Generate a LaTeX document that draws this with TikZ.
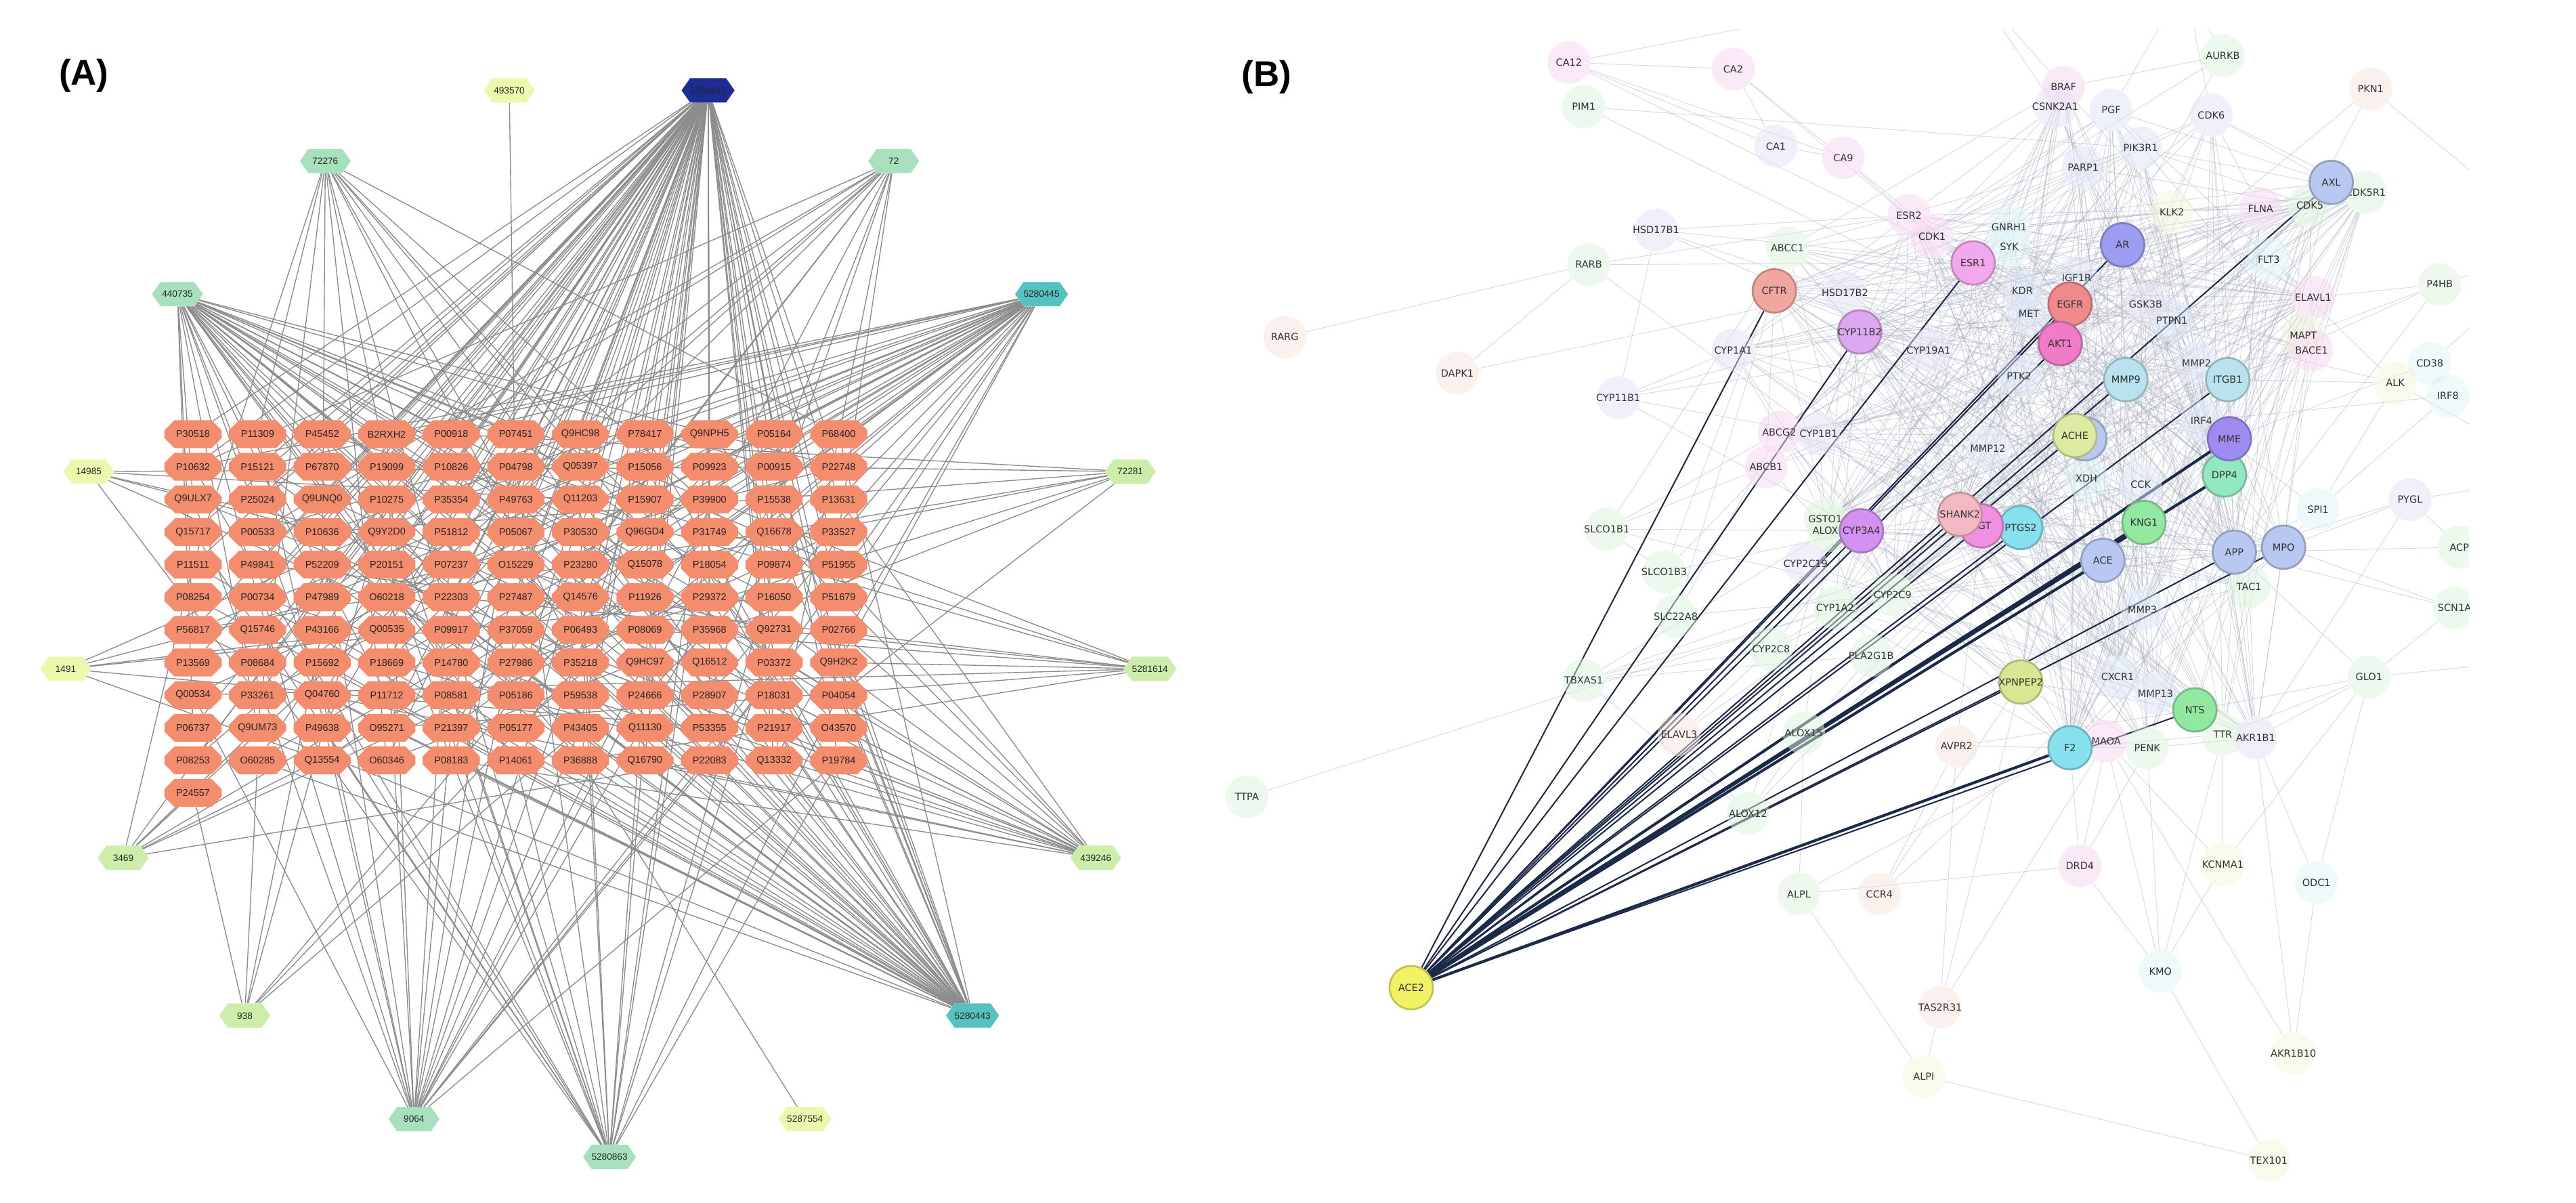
\documentclass[tikz,border=0pt]{standalone}
\usepackage{fontspec}
\setmainfont{Liberation Sans}
\newfontfamily\stringfont{DejaVu Sans}
\usetikzlibrary{shapes.misc,shapes.symbols}

% panel A colours
\definecolor{targetfill}{HTML}{F48C6E}
\definecolor{linkgray}{HTML}{8C8C8C}
\definecolor{cNavy}{HTML}{1E2C96}
\definecolor{cTeal}{HTML}{55C2BF}
\definecolor{cMint}{HTML}{A7E0BC}
\definecolor{cLime}{HTML}{CDEDAA}
\definecolor{cPale}{HTML}{EDF8AE}
% panel B colours
\definecolor{acelink}{HTML}{1B2A48}
\definecolor{faintlink}{HTML}{A4ABBA}
\definecolor{hpink}{HTML}{F6D6F0}
\definecolor{hgreen}{HTML}{DDF3DD}
\definecolor{hpeach}{HTML}{F7E6DC}
\definecolor{hlav}{HTML}{E6E0F6}
\definecolor{hcyan}{HTML}{DDF3F6}
\definecolor{hyel}{HTML}{F3F6DA}
\definecolor{hblue}{HTML}{DCE6F6}
\definecolor{hSalmon}{HTML}{F2A6A0}
\definecolor{hRed}{HTML}{EE8A8A}
\definecolor{hLilac}{HTML}{DDA8F0}
\definecolor{hPurple}{HTML}{D492F0}
\definecolor{hPink}{HTML}{F2A8EC}
\definecolor{hHot}{HTML}{F07CC8}
\definecolor{hMag}{HTML}{F090E0}
\definecolor{hRose}{HTML}{F2B8C4}
\definecolor{hPeri}{HTML}{9C9CF0}
\definecolor{hViolet}{HTML}{A08CF0}
\definecolor{hSky}{HTML}{B8C8F0}
\definecolor{hIce}{HTML}{B8E2EE}
\definecolor{hOlive}{HTML}{DDEAA2}
\definecolor{hLimeY}{HTML}{D8E892}
\definecolor{hMint}{HTML}{92E8C0}
\definecolor{hGreen}{HTML}{92E8A0}
\definecolor{hCyan}{HTML}{86E0EE}
\definecolor{hYellow}{HTML}{F2F266}

\pgfdeclarelayer{edges}
\pgfdeclarelayer{acelinks}
\pgfsetlayers{edges,acelinks,main}

\tikzset{
  target/.style={chamfered rectangle, chamfered rectangle xsep=0.42cm,
    chamfered rectangle ysep=0.2cm, fill=targetfill, draw=none,
    minimum width=1.74cm, minimum height=0.85cm, inner sep=0pt,
    font=\fontsize{8.5}{10}\selectfont, text=black!85},
  compound/.style={signal, signal to=east and west, signal pointer angle=110,
    draw=none, minimum width=1.55cm, minimum height=0.74cm, inner sep=0pt,
    font=\fontsize{8}{9}\selectfont, text=black!85},
  link/.style={draw=linkgray, line width=0.8pt},
  blab/.style={font=\stringfont\fontsize{8.5}{10}\selectfont, text=black!80,
    inner sep=0pt},
  halo/.style={circle, minimum size=1.3cm, inner sep=0pt, draw=none,
    fill opacity=0.5},
  hub/.style={circle, minimum size=1.32cm, inner sep=0pt, line width=1.6pt},
  faint/.style={draw=faintlink, line width=0.55pt, opacity=0.45},
  acelinkline/.style={draw=acelink, line width=1.2pt},
  panel/.style={font=\bfseries\fontsize{31}{33}\selectfont}
}

% links of one compound to a spread of targets
\newcommand{\fanlinks}[5]{%
  \foreach \ri in {1,...,11}{%
    \foreach \ci in {1,...,11}{%
      \pgfmathtruncatemacro{\k}{mod(#2*\ri+#3*\ci,#4)}%
      \ifnum\k<#5\relax
        \draw[link] (c#1) -- (g\ri-\ci);
      \fi
    }%
  }%
}

\def\corelist{ESR2,CDK1,GNRH1,SYK,ESR1,KDR,IGF1R,EGFR,MET,AKT1,PTK2,GSK3B,PTPN1,AR,KLK2,PARP1,PIK3R1,PGF,CSNK2A1,BRAF,CDK6,FLNA,CDK5,FLT3,MMP9,MMP2,ITGB1,IRF4,MME,DPP4,CCK,XDH,ACHE,MMP12,KNG1,ACE,APP,MPO,TAC1,MMP3,CXCR1,MMP13,NTS,TTR,AKR1B1,MAOA,PENK,F2,XPNPEP2,PTGS2,AGT,SHANK2,CYP3A4,CYP19A1,CYP1B1,ABCG2,ABCB1,CYP1A1,CYP11B2,HSD17B2,CFTR,ABCC1,CYP2C9,CYP1A2,CYP2C19,GSTO1,ALOX5,MAPT,BACE1,ELAVL1,AXL,CDK5R1}

\def\halolist{CA12/955/38/hpink, CA2/1055/42/hpink,
      PIM1/964/65/hgreen, BRAF/1256/53/hpink, CSNK2A1/1251/65/hlav,
      AURKB/1353/34/hgreen, PKN1/1443/54/hpeach, PGF/1285/67/hblue,
      CDK6/1346/70/hlav, CA1/1081/89/hlav, CA9/1122/96/hpink,
      PIK3R1/1303/90/hblue, PARP1/1268/102/hblue, CDK5R1/1440/117/hgreen,
      KLK2/1322/129/hyel, FLNA/1376/127/hpink, CDK5/1406/125/hgreen,
      HSD17B1/1008/140/hlav, ESR2/1162/131/hpink, GNRH1/1223/138/hcyan,
      CDK1/1176/144/hpink, SYK/1223/150/hcyan, ABCC1/1088/151/hgreen,
      FLT3/1381/158/hcyan, RARB/967/161/hgreen, HSD17B2/1123/178/hlav,
      KDR/1231/177/hblue, IGF1R/1264/169/hblue, MET/1235/191/hblue,
      GSK3B/1306/185/hlav, PTPN1/1322/195/hblue, ELAVL1/1408/181/hpink,
      P4HB/1485/173/hgreen, MAPT/1402/204/hyel, BACE1/1407/213/hpink,
      RARG/782/205/hpeach, DAPK1/887/227/hpeach, CYP1A1/1055/213/hlav,
      CYP19A1/1174/213/hlav, PTK2/1229/229/hblue, MMP2/1337/221/hblue,
      CD38/1479/221/hcyan, ALK/1458/233/hyel, IRF8/1490/241/hcyan,
      CYP11B1/985/242/hlav, ABCG2/1083/263/hpink, CYP1B1/1107/264/hlav,
      IRF4/1340/256/hblue, MMP12/1210/273/hblue, ABCB1/1075/284/hpink,
      XDH/1270/291/hcyan, CCK/1303/295/hblue, PYGL/1467/304/hlav,
      SPI1/1411/310/hcyan, GSTO1/1111/316/hgreen, ALOX5/1113/323/hgreen,
      SLCO1B1/978/322/hgreen, ACP/1497/333/hgreen, SLCO1B3/1013/348/hgreen,
      CYP2C19/1099/343/hlav, TAC1/1369/357/hgreen, SCN1A/1494/370/hgreen,
      SLC22A8/1020/375/hgreen, CYP1A2/1117/370/hgreen, CYP2C9/1152/362/hgreen,
      MMP3/1304/371/hblue, CYP2C8/1078/395/hgreen, PLA2G1B/1139/399/hgreen,
      GLO1/1442/412/hgreen, CXCR1/1289/412/hblue, TBXAS1/964/414/hgreen,
      MMP13/1312/422/hblue, TTR/1353/447/hgreen, AKR1B1/1373/449/hlav,
      ELAVL3/1022/447/hpeach, ALOX15/1098/446/hgreen, AVPR2/1191/454/hpeach,
      MAOA/1282/451/hpink, PENK/1307/455/hgreen, TTPA/759/485/hgreen,
      ALOX12/1064/495/hgreen, DRD4/1266/527/hpink, KCNMA1/1353/526/hyel,
      ODC1/1410/537/hcyan, ALPL/1095/544/hgreen, CCR4/1144/544/hpeach,
      KMO/1315/591/hcyan, TAS2R31/1181/613/hpeach, AKR1B10/1396/641/hyel,
      ALPI/1171/655/hyel, TEX101/1381/706/hyel}

\begin{document}
\begin{tikzpicture}[x=0.05cm,y=-0.05cm]
\useasboundingbox (0,0) rectangle (1568,732);

% ---------------- (A) compound--target network
\node[panel] (labA) at (51,46) {(A)};

\foreach \row [count=\ri] in {
  {P30518,P11309,P45452,B2RXH2,P00918,P07451,Q9HC98,P78417,Q9NPH5,P05164,P68400},
  {P10632,P15121,P67870,P19099,P10826,P04798,Q05397,P15056,P09923,P00915,P22748},
  {Q9ULX7,P25024,Q9UNQ0,P10275,P35354,P49763,Q11203,P15907,P39900,P15538,P13631},
  {Q15717,P00533,P10636,Q9Y2D0,P51812,P05067,P30530,Q96GD4,P31749,Q16678,P33527},
  {P11511,P49841,P52209,P20151,P07237,O15229,P23280,Q15078,P18054,P09874,P51955},
  {P08254,P00734,P47989,O60218,P22303,P27487,Q14576,P11926,P29372,P16050,P51679},
  {P56817,Q15746,P43166,Q00535,P09917,P37059,P06493,P08069,P35968,Q92731,P02766},
  {P13569,P08684,P15692,P18669,P14780,P27986,P35218,Q9HC97,Q16512,P03372,Q9H2K2},
  {Q00534,P33261,Q04760,P11712,P08581,P05186,P59538,P24666,P28907,P18031,P04054},
  {P06737,Q9UM73,P49638,O95271,P21397,P05177,P43405,Q11130,P53355,P21917,O43570},
  {P08253,O60285,Q13554,O60346,P08183,P14061,P36888,Q16790,P22083,Q13332,P19784}}{
  \foreach \id [count=\ci] in \row {
    \node[target] (g\ri-\ci) at ({117.5+39.3*(\ci-1)},{264.2+19.85*(\ri-1)}) {\id};
  }
}
\node[target] (g12-1) at (117.5,482.5) {P24557};

\foreach \n/\x/\y/\col in {5280343/431/55/cNavy, 493570/310/55/cPale,
    72276/198/98/cMint, 72/544/98/cMint, 440735/108/179/cMint,
    5280445/634/179/cTeal, 14985/54/287/cPale, 72281/688/287/cLime,
    1491/40/407/cPale, 5281614/700/407/cLime, 3469/75/522/cLime,
    439246/667/522/cLime, 938/149/618/cLime, 5280443/592/618/cTeal,
    9064/252/681/cMint, 5287554/490/681/cPale, 5280863/371/704/cMint}
  \node[compound, fill=\col] (c\n) at (\x,\y) {\n};

\begin{pgfonlayer}{edges}
  \fanlinks{5280343}{1}{2}{3}{2}
  \fanlinks{440735}{2}{1}{7}{2}
  \fanlinks{5280445}{3}{1}{7}{2}
  \fanlinks{5280443}{1}{3}{8}{3}
  \fanlinks{72276}{1}{4}{9}{1}
  \fanlinks{72}{4}{1}{9}{1}
  \fanlinks{9064}{2}{5}{11}{2}
  \fanlinks{5280863}{5}{2}{11}{2}
  \fanlinks{439246}{3}{4}{13}{2}
  \fanlinks{5281614}{4}{3}{13}{1}
  \fanlinks{72281}{2}{3}{17}{1}
  \fanlinks{3469}{3}{2}{17}{1}
  \fanlinks{938}{5}{1}{19}{1}
  \fanlinks{14985}{1}{5}{19}{1}
  \fanlinks{1491}{6}{1}{23}{1}
  \draw[link] (c493570) -- (g4-6);
  \draw[link] (c5287554) -- (g11-7);
  \draw[link] (c3469) -- (g12-1);
  \draw[link] (c938) -- (g12-1);
\end{pgfonlayer}

% ---------------- (B) interaction network
\node[panel] (labB) at (771,47) {(B)};

\coordinate (offR1) at (1560,150);
\coordinate (offR2) at (1560,290);
\coordinate (offR3) at (1560,400);
\coordinate (offT1) at (1330,-10);
\coordinate (offT2) at (1200,-10);

\begin{scope}
  \clip (740,18) rectangle (1503,732);
  \foreach \n/\x/\y/\col in \halolist
    \node[halo, fill=\col] (\n) at (\x,\y) {};
  \foreach \n/\x/\y/\col in \halolist
    \node[blab] (t\n) at (\n) {\n};

  \node[hub, fill=hSky, draw=hSky!80!black] (achering) at (1269,267) {};
  \foreach \n/\x/\y/\col in {CFTR/1080/177/hSalmon, CYP11B2/1132/202/hLilac,
      ESR1/1201/160/hPink, EGFR/1260/185/hRed, AKT1/1254/209/hHot,
      AR/1292/149/hPeri, AXL/1419/111/hSky, MMP9/1294/231/hIce,
      ITGB1/1356/231/hIce, ACHE/1263/265/hOlive, DPP4/1354/289/hMint,
      MME/1357/267/hViolet, KNG1/1305/318/hGreen, ACE/1280/341/hSky,
      APP/1360/336/hSky, MPO/1390/333/hSky, NTS/1336/432/hGreen,
      F2/1260/455/hCyan, XPNPEP2/1230/415/hLimeY, PTGS2/1230/321/hCyan,
      AGT/1206/320/hMag, SHANK2/1193/313/hRose, CYP3A4/1133/323/hPurple,
      ACE2/859/601/hYellow}
    \node[hub, fill=\col, draw=\col!80!black, label={[blab]center:\n}] (\n) at (\x,\y) {};
\end{scope}

\begin{pgfonlayer}{edges}
  \begin{scope}
    \clip (740,18) rectangle (1503,732);
    % dense core
    \foreach \a [count=\i] in \corelist {%
      \foreach \b [count=\j] in \corelist {%
        \ifnum\j>\i
          \pgfmathtruncatemacro{\k}{mod(\i*\i+3*\j+\i*\j,11)}%
          \ifnum\k<3 \draw[faint] (\a) -- (\b); \fi
        \fi
      }%
    }
    % outer links
    \foreach \a/\b in {RARG/RARB, DAPK1/RARB, DAPK1/ESR1, RARB/ESR1, RARB/CYP1B1,
        RARB/ESR2, CA12/CA9, CA12/CA1, CA12/CA2, CA2/CA9, CA2/CA1, CA1/CA9,
        CA12/ESR1, CA2/CDK1, CA9/ESR1, CA9/CDK1, PIM1/AKT1, PIM1/PIK3R1,
        HSD17B1/CYP11B1, HSD17B1/HSD17B2, HSD17B1/ESR1, HSD17B1/CYP19A1,
        HSD17B1/ESR2, CYP11B1/CYP11B2, CYP11B1/CYP1A1, CYP11B1/CYP19A1,
        CYP11B1/CYP1B1, CYP11B1/CYP3A4, SLCO1B1/SLCO1B3, SLCO1B1/ABCB1,
        SLCO1B1/ABCG2, SLCO1B1/CYP3A4, SLCO1B1/ABCC1, SLCO1B1/CYP2C9,
        SLCO1B3/CYP3A4, SLCO1B3/ABCC1, SLCO1B3/ABCB1, SLCO1B3/SLC22A8,
        SLC22A8/ABCG2, SLC22A8/ABCC1, SLC22A8/CYP2C9, TBXAS1/PTGS2,
        TBXAS1/ALOX5, TBXAS1/ALOX12, TBXAS1/PLA2G1B, TBXAS1/CYP2C8,
        TBXAS1/CYP2C9, TTPA/CYP1A2, ELAVL3/CYP2C8, ELAVL3/ALOX12, ELAVL3/ELAVL1,
        ALOX15/ALOX12, ALOX15/ALOX5, ALOX15/PTGS2, ALOX15/ALPL, ALOX12/PTGS2,
        ALOX12/ALOX5, ALOX15/PLA2G1B, PLA2G1B/PTGS2, PLA2G1B/ALOX5,
        CYP2C8/CYP2C9, CYP2C8/CYP1A2, CYP2C8/CYP3A4, CYP2C19/CYP3A4,
        CYP2C19/CYP2C9, AVPR2/TAS2R31, AVPR2/F2, AVPR2/AGT, AVPR2/NTS,
        ALPL/ALPI, ALPL/DRD4, ALPL/F2, CCR4/CXCR1, CCR4/AVPR2, CCR4/XPNPEP2,
        TAS2R31/ALPI, TAS2R31/XPNPEP2, TAS2R31/MAOA, ALPI/TEX101,
        KMO/TEX101, KMO/MAOA, KMO/PENK, KMO/TTR, KMO/KCNMA1, KMO/DRD4,
        AKR1B10/AKR1B1, AKR1B10/ODC1, AKR1B10/MAOA, ODC1/GLO1, ODC1/AKR1B1,
        KCNMA1/TTR, KCNMA1/GLO1, KCNMA1/MAOA, DRD4/MAOA, DRD4/PENK, DRD4/F2,
        GLO1/AKR1B1, GLO1/TTR, GLO1/SCN1A, GLO1/NTS, GLO1/offR3, GLO1/APP,
        PYGL/APP, PYGL/ACP, PYGL/MPO, PYGL/offR2, PYGL/AKR1B1,
        SPI1/MPO, SPI1/IRF8, SPI1/IRF4, SPI1/ALK, SPI1/APP,
        P4HB/APP, P4HB/ELAVL1, P4HB/ITGB1, P4HB/offR1, P4HB/MAPT,
        CD38/ALK, CD38/IRF8, CD38/MME, CD38/offR1, ALK/FLT3, ALK/EGFR,
        ALK/ITGB1, ALK/offR2, IRF8/IRF4, PKN1/AKT1, PKN1/CDK5, PKN1/offR1,
        AURKB/CDK1, AURKB/BRAF, AURKB/offT1, AURKB/AKT1, CSNK2A1/offT2,
        BRAF/offT2, CDK6/offT1, PGF/offT1, CA12/offT2, SCN1A/offR3,
        ACP/offR2, ACP/APP, SCN1A/APP, SCN1A/MPO}
      \draw[faint] (\a) -- (\b);
  \end{scope}
\end{pgfonlayer}

\begin{pgfonlayer}{acelinks}
  \foreach \t in {CFTR,CYP11B2,ESR1,CYP3A4,SHANK2,AGT,PTGS2,EGFR,AKT1,AR,AXL,
      MMP9,ACHE,ITGB1,APP,MPO,NTS,XPNPEP2}
    \draw[acelinkline] (ACE2) -- (\t);
  \foreach \t in {MME,DPP4,KNG1,ACE,F2}
    \draw[acelinkline, line width=2.4pt] (ACE2) -- (\t);
\end{pgfonlayer}
\end{tikzpicture}
\end{document}
